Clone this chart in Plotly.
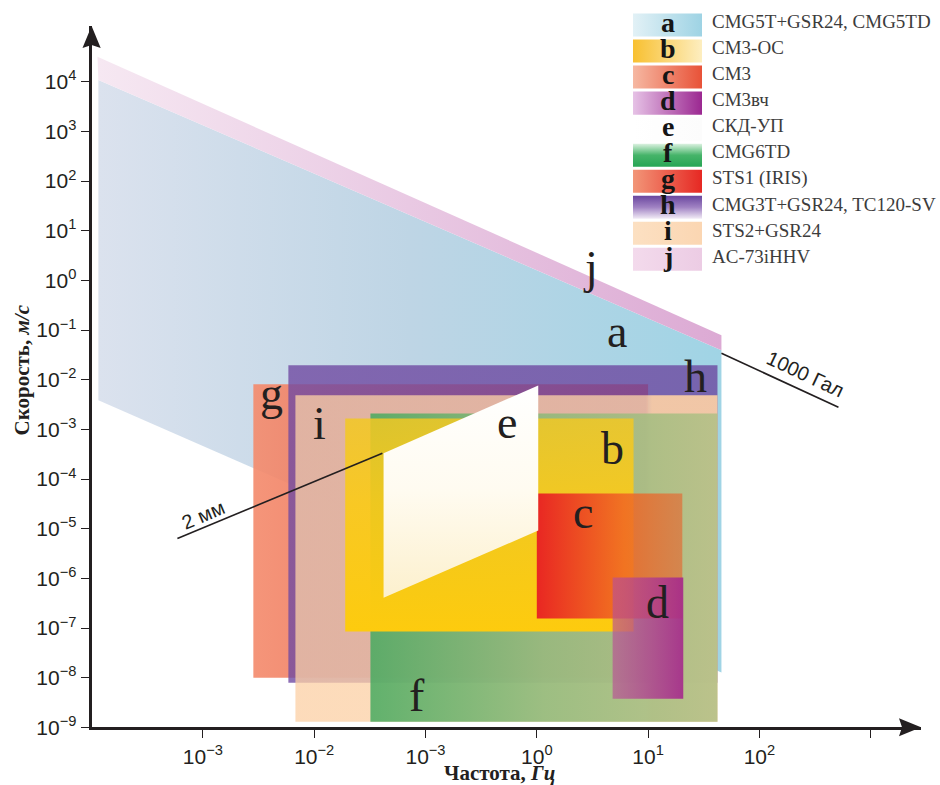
import plotly.graph_objects as go

W, H = 940, 785          # target picture size (design pixels)
FIG_H = 797              # page height that maps onto the 785-px picture
INK = "#231f20"

# ---------------- data (frequency, Hz ; velocity, m/s) ----------------
a_freq = [1.15e-4, 45.6, 45.6, 1.15e-4]
a_vel = [1.09e4, 3.94e-2, 1.27e-8, 3.86e-3]
j_freq = [1.13e-4, 45.6, 45.6, 1.15e-4]
j_vel = [3.18e4, 7.9e-2, 3.94e-2, 1.09e4]
g_freq = [2.84e-3, 10.0]
g_vel = [1.0e-8, 8.1e-3]
h_freq = [5.86e-3, 42.0]
h_vel = [7.96e-9, 1.96e-2]
i_freq = [6.78e-3, 42.0]
i_vel = [1.3e-9, 4.9e-3]
f_freq = [3.2e-2, 42.0]
f_vel = [1.3e-9, 2.1e-3]
b_freq = [1.9e-2, 7.4]
b_vel = [8.5e-8, 1.67e-3]
c_freq = [1.0, 20.3]
c_vel = [1.56e-7, 5.15e-5]
d_freq = [4.8, 20.7]
d_vel = [3.8e-9, 1.04e-6]
e_freq = [0.042, 1.03, 1.03, 0.042]
e_vel = [3.3e-4, 7.7e-3, 9.2e-6, 4.1e-7]
line_2mm_freq = [5.9e-4, 0.041]
line_2mm_vel = [6.4e-6, 3.3e-4]
line_1000gal_freq = [45.6, 513]
line_1000gal_vel = [3.42e-2, 2.79e-3]

x_tickvals = [1e-3, 1e-2, 1e-1, 1, 10, 100, 1000]
x_ticktext = ["10<sup>−3</sup>", "10<sup>−2</sup>", "10<sup>−3</sup>", "10<sup>0</sup>",
              "10<sup>1</sup>", "10<sup>2</sup>", ""]
y_exponents = [4, 3, 2, 1, 0, -1, -2, -3, -4, -5, -6, -7, -8, -9]

legend_letters = ["a", "b", "c", "d", "e", "f", "g", "h", "i", "j"]
legend_labels = ["CMG5T+GSR24, CMG5TD", "СМ3-ОС", "СМ3", "СМ3вч", "СКД-УП",
                 "CMG6TD", "STS1 (IRIS)", "CMG3T+GSR24, TC120-SV", "STS2+GSR24", "AC-73iHHV"]

# ---------------- styles ----------------
region_style = {
    "a": ("horizontal", [[0, "rgb(219,226,238)"], [0.5, "rgb(190,213,229)"], [1, "rgb(160,212,229)"]]),
    "j": ("horizontal", [[0, "rgb(246,232,242)"], [1, "rgb(220,170,212)"]]),
    "g": ("horizontal", [[0, "rgba(244,140,110,0.92)"], [1, "rgba(228,70,55,0.92)"]]),
    "h": ("horizontal", [[0, "rgba(112,74,162,0.8)"], [1, "rgba(108,72,160,0.8)"]]),
    "i": ("horizontal", [[0, "rgba(252,208,165,0.76)"], [0.83, "rgba(252,210,168,0.78)"],
                         [0.845, "rgba(250,206,166,0.93)"], [1, "rgba(250,206,166,0.93)"]]),
    "f": ("horizontal", [[0, "rgba(70,170,95,0.85)"], [0.5, "rgba(140,185,120,0.85)"], [1, "rgba(178,192,134,0.87)"]]),
    "b": ("vertical", [[0, "rgba(253,203,14,1)"], [0.6, "rgba(250,202,25,0.92)"], [1, "rgba(242,200,35,0.85)"]]),
    "c": ("horizontal", [[0, "rgba(232,30,35,0.95)"], [0.6, "rgba(240,100,35,0.85)"], [1, "rgba(222,115,60,0.75)"]]),
    "d": ("horizontal", [[0, "rgba(185,80,150,0.65)"], [1, "rgba(165,40,140,0.9)"]]),
    "e": ("vertical", [[0, "rgb(252,240,205)"], [0.5, "rgb(255,251,240)"], [1, "rgb(255,255,255)"]]),
}

legend_swatch = {
    "a": ("horizontal", [[0, "rgb(226,241,246)"], [1, "rgb(158,211,228)"]]),
    "b": ("horizontal", [[0, "rgb(248,192,48)"], [1, "rgb(253,238,192)"]]),
    "c": ("horizontal", [[0, "rgb(246,184,162)"], [1, "rgb(232,82,56)"]]),
    "d": ("horizontal", [[0, "rgb(230,194,230)"], [1, "rgb(155,40,145)"]]),
    "e": ("horizontal", [[0, "rgb(255,255,255)"], [1, "rgb(252,252,252)"]]),
    "f": ("vertical", [[0, "rgb(40,165,85)"], [0.5, "rgb(70,180,105)"], [1, "rgb(220,242,225)"]]),
    "g": ("horizontal", [[0, "rgb(242,150,120)"], [1, "rgb(230,40,35)"]]),
    "h": ("vertical", [[0, "rgb(242,236,246)"], [0.5, "rgb(160,130,195)"], [1, "rgb(105,70,158)"]]),
    "i": ("horizontal", [[0, "rgb(252,224,194)"], [1, "rgb(251,214,178)"]]),
    "j": ("horizontal", [[0, "rgb(243,218,236)"], [1, "rgb(236,204,228)"]]),
}

fig = go.Figure()


def rect(fr, vel):
    return ([fr[0], fr[1], fr[1], fr[0], fr[0]], [vel[0], vel[0], vel[1], vel[1], vel[0]])


def add_region(key, xs, ys):
    gtype, cs = region_style[key]
    fig.add_trace(go.Scatter(
        x=xs, y=ys, mode="lines", fill="toself", line=dict(width=0),
        fillgradient=dict(type=gtype, colorscale=cs),
        hoverinfo="skip", showlegend=False, xaxis="x", yaxis="y"))


add_region("a", a_freq + [a_freq[0]], a_vel + [a_vel[0]])
add_region("j", j_freq + [j_freq[0]], j_vel + [j_vel[0]])
for key, fr, ve in [("g", g_freq, g_vel), ("h", h_freq, h_vel), ("i", i_freq, i_vel),
                    ("f", f_freq, f_vel), ("b", b_freq, b_vel), ("c", c_freq, c_vel),
                    ("d", d_freq, d_vel)]:
    xs, ys = rect(fr, ve)
    add_region(key, xs, ys)
add_region("e", e_freq + [e_freq[0]], e_vel + [e_vel[0]])

for fr, ve in [(line_2mm_freq, line_2mm_vel), (line_1000gal_freq, line_1000gal_vel)]:
    fig.add_trace(go.Scatter(x=fr, y=ve, mode="lines", line=dict(color=INK, width=1.6),
                             hoverinfo="skip", showlegend=False, xaxis="x", yaxis="y"))

# ---------------- pixel overlay: arrowheads and legend ----------------
def px_poly(xs, ys, color, gradient=None):
    kw = dict(x=xs, y=ys, mode="lines", fill="toself", line=dict(width=0),
              hoverinfo="skip", showlegend=False, xaxis="x2", yaxis="y2")
    if gradient:
        kw["fillgradient"] = dict(type=gradient[0], colorscale=gradient[1])
    else:
        kw["fillcolor"] = color
    fig.add_trace(go.Scatter(**kw))


px_poly([91.6, 82.5, 91.6, 100.7, 91.6], [26, 48, 45, 48, 26], INK)
px_poly([921, 899, 902, 899, 921], [726.4, 717.4, 726.4, 735.4, 726.4], INK)

annotations = []
for k, (let, lab) in enumerate(zip(legend_letters, legend_labels)):
    cy = 25 + 26 * k
    px_poly([633, 702, 702, 633, 633], [cy - 11.5, cy - 11.5, cy + 11.5, cy + 11.5, cy - 11.5],
            None, legend_swatch[let])
    annotations.append(dict(x=668, y=cy - 2.5, xref="x2", yref="y2", text=let, showarrow=False,
                            font=dict(family="Liberation Serif", size=28, color="#151515",
                                      weight="bold"),
                            xanchor="center", yanchor="middle"))
    annotations.append(dict(x=710, y=cy - 3.2, xref="x2", yref="y2", text=lab, showarrow=False,
                            font=dict(family="Liberation Serif", size=19, color="#3c3c3c"),
                            xanchor="left", yanchor="middle"))

# region letters (baseline positions in pixels)
region_letters = [("a", 617, 347), ("b", 612, 463), ("c", 583, 527), ("d", 657, 617),
                  ("e", 507, 437), ("f", 417, 710), ("g", 271, 409), ("h", 695, 392),
                  ("i", 319, 438), ("j", 590, 283)]
LFS = 46
for let, x, base in region_letters:
    annotations.append(dict(x=x, y=base - 0.3375 * LFS, xref="x2", yref="y2", text=let,
                            showarrow=False, xanchor="center", yanchor="middle",
                            font=dict(family="Liberation Serif", size=LFS, color=INK)))

annotations.append(dict(x=203, y=514, xref="x2", yref="y2", text="2 мм", showarrow=False,
                        textangle=-23, font=dict(family="Liberation Sans", size=20, color=INK)))
annotations.append(dict(x=805, y=374, xref="x2", yref="y2", text="1000 Гал", showarrow=False,
                        textangle=25, font=dict(family="Liberation Sans", size=20, color=INK)))

annotations.append(dict(x=499, y=772, xref="x2", yref="y2",
                        text="<b>Частота, <i>Гц</i></b>", showarrow=False,
                        font=dict(family="Liberation Serif", size=21, color=INK)))
annotations.append(dict(x=22, y=370, xref="x2", yref="y2", textangle=-90,
                        text="<b>Скорость, <i>м/с</i></b>", showarrow=False,
                        font=dict(family="Liberation Serif", size=21, color=INK)))

x_left, x_right = 91.6, 921.0
y_bottom, y_top = 726.5, 26.0
dec_x = 111.3
dec_y = 49.6
x_lo = -4.0
x_hi = x_lo + (x_right - x_left) / dec_x
y_lo = -9.0
y_hi = y_lo + (y_bottom - y_top) / dec_y

fig.update_layout(
    width=W, height=FIG_H, autosize=False,
    margin=dict(l=0, r=0, t=0, b=0, pad=0),
    paper_bgcolor="white", plot_bgcolor="rgba(0,0,0,0)",
    showlegend=False,
    annotations=annotations,
    xaxis=dict(type="log", domain=[x_left / W, x_right / W], range=[x_lo, x_hi],
               showgrid=False, zeroline=False, showline=True, linewidth=3, linecolor=INK,
               ticks="outside", ticklen=8, tickwidth=1.4, tickcolor=INK,
               tickvals=x_tickvals, ticktext=x_ticktext,
               tickfont=dict(family="Liberation Sans", size=21, color=INK),
               anchor="y", fixedrange=True),
    yaxis=dict(type="log", domain=[(H - y_bottom) / H, (H - y_top) / H], range=[y_lo, y_hi],
               showgrid=False, zeroline=False, showline=True, linewidth=3, linecolor=INK,
               ticks="outside", ticklen=8, tickwidth=1.4, tickcolor=INK,
               tickvals=[10.0 ** e for e in y_exponents],
               ticktext=["10<sup>%s</sup>" % (str(e).replace("-", "−")) for e in y_exponents],
               tickfont=dict(family="Liberation Sans", size=21, color=INK),
               anchor="x", fixedrange=True),
    xaxis2=dict(domain=[0, 1], range=[0, W], visible=False, anchor="y2", fixedrange=True),
    yaxis2=dict(domain=[0, 1], range=[H, 0], visible=False, anchor="x2", fixedrange=True),
)

page_fix = (
    "var s=document.createElement('style');"
    "s.innerHTML='html,body{margin:0!important;padding:0!important;overflow:hidden!important;}';"
    "document.head.appendChild(s);"
)

fig.write_html("out.html", config={"displayModeBar": False, "responsive": False},
               post_script=page_fix)
